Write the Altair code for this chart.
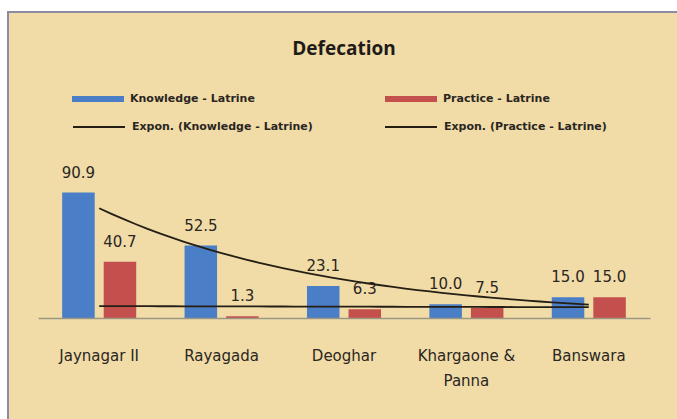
import altair as alt
import pandas as pd

# Sanitation survey: awareness vs. practice of latrine use per block
categories = ["Jaynagar II", "Rayagada", "Deoghar", "Khargaone & Panna", "Banswara"]
knowledge = [90.9, 52.5, 23.1, 10.0, 15.0]
practice = [40.7, 1.3, 6.3, 7.5, 15.0]
series_names = ["Knowledge - Latrine", "Practice - Latrine"]
series_colors = ["#4A7EC6", "#C4504E"]
trend_names = ["Expon. (Knowledge - Latrine)", "Expon. (Practice - Latrine)"]

rows = []
for i, cat in enumerate(categories):
    rows.append({"category": cat, "idx": i + 1, "series": series_names[0], "value": knowledge[i]})
    rows.append({"category": cat, "idx": i + 1, "series": series_names[1], "value": practice[i]})
df = pd.DataFrame(rows)

TEXT_FONT = "DejaVu Sans"
TITLE_FONT = "Open Sans"
INK = "#2a2622"
PAD_INNER = 0.395

base = alt.Chart(df)

# parchment panel behind everything
panel = alt.Chart(pd.DataFrame({"p": [0]})).mark_rect(
    fill="#F1DCA8", stroke="#8E8AA2", strokeWidth=2
).encode(
    x=alt.value(-30), x2=alt.value(700), y=alt.value(-168), y2=alt.value(320)
)

band_scale = alt.Scale(paddingInner=PAD_INNER, paddingOuter=PAD_INNER / 2)
x_band = alt.X(
    "category:N",
    sort=categories,
    scale=band_scale,
    axis=alt.Axis(
        title=None, labelAngle=0, ticks=False, domainColor="#9C9684", domainWidth=1.5,
        labelFont=TEXT_FONT, labelFontSize=15, labelColor=INK, labelPadding=30,
        labelLineHeight=25, labelLimit=200, zindex=1,
        labelExpr="datum.label == 'Khargaone & Panna' ? ['Khargaone &', 'Panna'] : datum.label",
    ),
)
y_val = alt.Y("value:Q", scale=alt.Scale(domain=[0, 100], nice=False), axis=None)
x_off = alt.XOffset("series:N", sort=series_names, scale=alt.Scale(paddingInner=0.217))

legend_text = dict(
    labelFont=TEXT_FONT, labelFontSize=11, labelFontWeight="bold", labelColor=INK,
    labelOffset=6, labelLimit=300,
)

bars = base.mark_bar().encode(
    x=x_band,
    xOffset=x_off,
    y=y_val,
    fill=alt.Fill(
        "series:N",
        scale=alt.Scale(domain=series_names, range=series_colors),
        legend=alt.Legend(
            title=None, orient="none", legendX=34, legendY=-107, direction="horizontal",
            columns=2, columnPadding=130,
            symbolType="M-1,-0.12H1V0.12H-1Z", symbolSize=2704, symbolStrokeWidth=0,
            **legend_text,
        ),
    ),
)

labels = base.mark_text(
    baseline="alphabetic", dy=-15, font=TEXT_FONT, fontSize=15, color=INK
).encode(
    x=alt.X("category:N", sort=categories, scale=band_scale, axis=None),
    xOffset=x_off,
    y=y_val,
    text=alt.Text("value:Q", format=".1f"),
)

# exponential trendlines: least squares on ln(value) against the category index,
# evaluated at 41 evenly spaced points from the first to the last category
trend = (
    base.transform_calculate(ly="log(datum.value)")
    .transform_joinaggregate(
        mx="mean(idx)", mly="mean(ly)", x0="min(idx)", x1="max(idx)", groupby=["series"]
    )
    .transform_calculate(
        sxy="(datum.idx - datum.mx) * (datum.ly - datum.mly)",
        sxx="pow(datum.idx - datum.mx, 2)",
    )
    .transform_joinaggregate(num="sum(sxy)", den="sum(sxx)", groupby=["series"])
    .transform_filter("datum.idx == datum.x0")
    .transform_calculate(t="sequence(0, 41)")
    .transform_flatten(["t"])
    .transform_calculate(xs="datum.x0 + (datum.x1 - datum.x0) * datum.t / 40")
    .transform_calculate(
        fit="exp(datum.mly + datum.num / datum.den * (datum.xs - datum.mx))",
        trend="'Expon. (' + datum.series + ')'",
    )
    .mark_line(strokeWidth=1.8)
    .encode(
        x=alt.X("xs:Q", scale=alt.Scale(domain=[0.5, 5.5], nice=False, zero=False), axis=None),
        y=alt.Y("fit:Q", scale=alt.Scale(domain=[0, 100], nice=False), axis=None),
        stroke=alt.Stroke(
            "trend:N",
            scale=alt.Scale(domain=trend_names, range=["#241E14", "#241E14"]),
            legend=alt.Legend(
                title=None, orient="none", legendX=34, legendY=-80, direction="horizontal",
                columns=2, columnPadding=68,
                symbolType="stroke", symbolSize=2704, symbolStrokeWidth=1.8,
                **legend_text,
            ),
        ),
        order="xs:Q",
    )
)

chart = alt.layer(panel, bars, labels, trend).resolve_scale(
    x="independent"
).properties(
    width=612,
    height=138,
    padding={"left": 38, "top": 180, "right": 27, "bottom": 101},
    autosize=alt.AutoSizeParams(type="none"),
    background="white",
    title=alt.Title(
        "Defecation", font=TITLE_FONT, fontSize=19, fontWeight="bold", color="#1E1B18",
        frame="group", anchor="middle", offset=-48,
    ),
).configure_view(stroke=None)

chart.save("out.html", embed_options={"renderer": "svg", "actions": False})
